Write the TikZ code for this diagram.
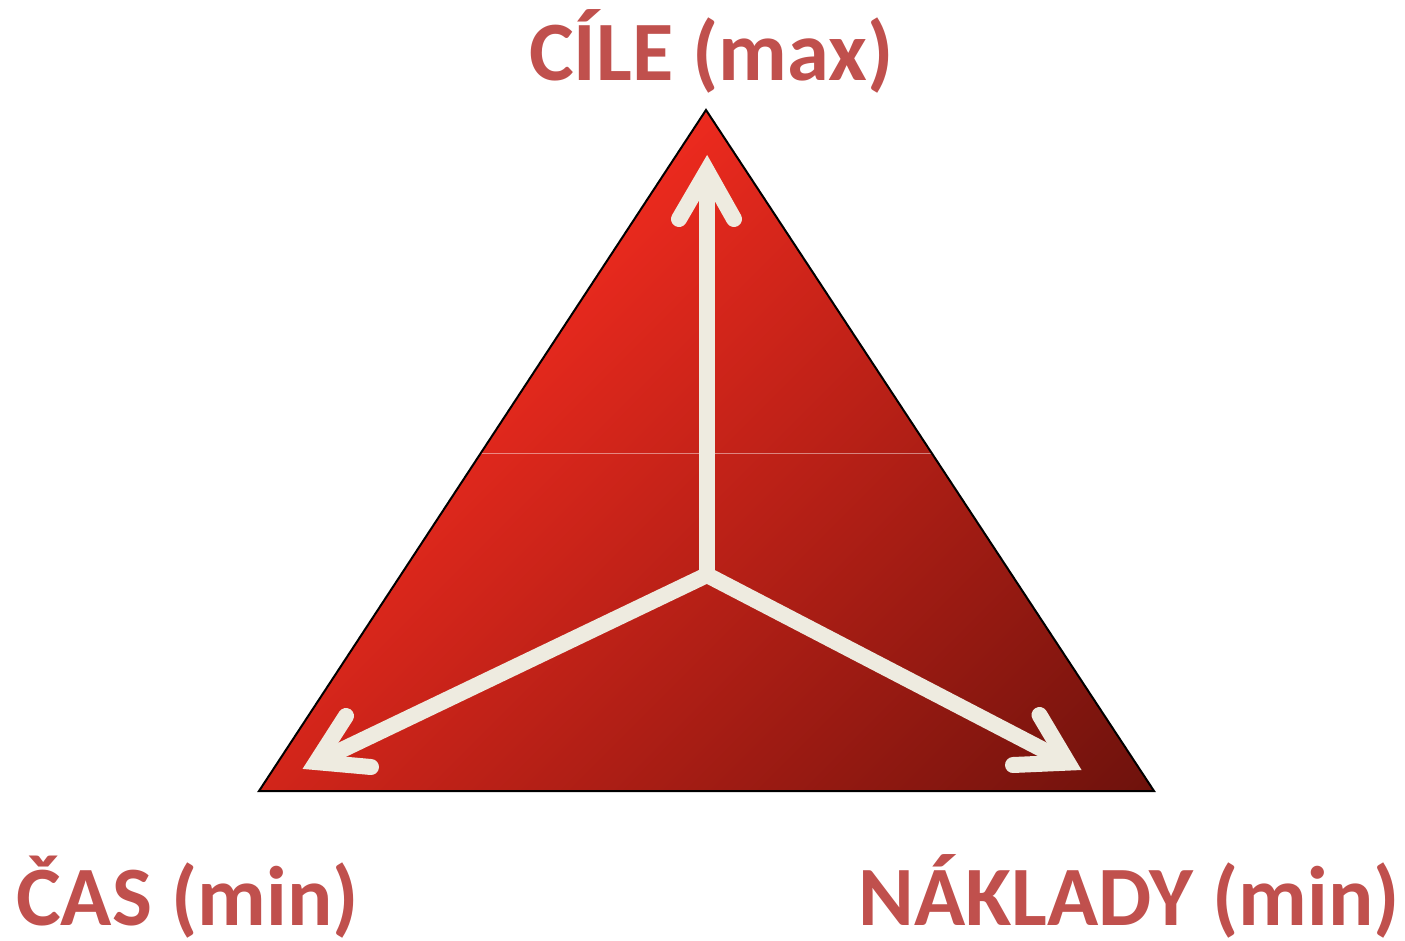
\documentclass[tikz,border=0pt]{standalone}
\usepackage{fontspec}
\setmainfont{Carlito}
\usetikzlibrary{calc}
\definecolor{redtop}{RGB}{236,42,30}
\definecolor{redbot}{RGB}{110,18,12}
\definecolor{cream}{RGB}{238,235,224}
\definecolor{labelred}{RGB}{192,80,77}
\begin{document}
\begin{tikzpicture}[x=1pt,y=-1pt,
  shaft/.style={draw=cream, line width=16pt, line join=miter, line cap=butt, miter limit=10},
  chevron/.style={draw=cream, line width=16pt, line join=miter, line cap=round, miter limit=10},
  titletext/.style={text=labelred, font=\fontsize{84.5}{92}\selectfont\bfseries, inner sep=0pt}]
\useasboundingbox (0,0) rectangle (1405,940);

% triangle corners
\coordinate (T) at (706,110);
\coordinate (L) at (259,791);
\coordinate (R) at (1154,791);

% diagonal red gradient inside the triangle
\begin{scope}
  \clip (T) -- (L) -- (R) -- cycle;
  \begin{scope}[transform canvas={rotate around={-45:(T)}}]
    \shade[left color=redtop, right color=redbot] (706,-890) rectangle (1504.3,1110);
  \end{scope}
\end{scope}

% faint seam across the triangle
\coordinate (seamL) at ($(T)!0.5051!(L)$);
\coordinate (seamR) at ($(T)!0.5051!(R)$);
\draw[white, opacity=0.45, line width=1pt] (seamL) -- (seamR);

% outline
\draw[black, line width=2pt, line join=miter] (T) -- (L) -- (R) -- cycle;

% arrows from the centre
\coordinate (C) at (707,575);
\coordinate (tipT) at (707,171);
\coordinate (tipL) at (316.4,762.1);
\coordinate (tipR) at (1067.8,762.6);
\coordinate (bT1) at (679,219);
\coordinate (bT2) at (734,219);
\coordinate (bL1) at (346,716);
\coordinate (bL2) at (371,767);
\coordinate (bR1) at (1039.5,715);
\coordinate (bR2) at (1013,765);

\draw[shaft] (tipL) -- (C) -- (tipR);
\draw[shaft] (C) -- (tipT);
\draw[chevron] (bT1) -- (tipT) -- (bT2);
\draw[chevron] (bL1) -- (tipL) -- (bL2);
\draw[chevron] (bR1) -- (tipR) -- (bR2);

% labels
\node[titletext, anchor=base] (goal) at (711.5,80) {CÍLE (max)};
\node[titletext, anchor=base west] (time) at (16,925) {ČAS (min)};
\node[titletext, anchor=base east] (cost) at (1400,925) {NÁKLADY (min)};
\end{tikzpicture}
\end{document}
